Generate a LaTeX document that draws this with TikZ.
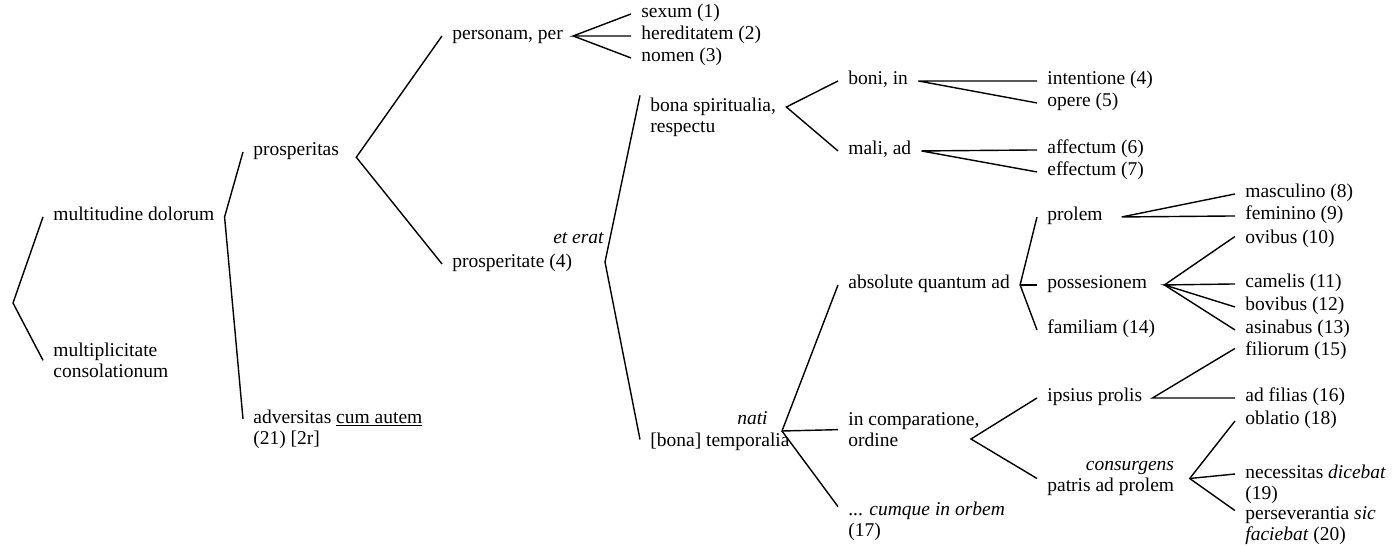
\documentclass[tikz,border=0pt]{standalone}
\usepackage{fontspec}
\setmainfont{Liberation Serif}
\begin{document}
\begin{tikzpicture}[x=0.02cm, y=-0.02cm,
    lbl/.style={anchor=base west, inner xsep=0.2cm, inner ysep=1pt, align=left,
        font=\fontsize{11.1}{12.5}\selectfont},
    note/.style={anchor=base east, inner sep=0pt,
        font=\fontsize{11.1}{12.5}\selectfont\itshape},
    br/.style={line width=0.8pt}]
    \useasboundingbox (0,0) rectangle (1393,546);

    % first division
    \coordinate (root) at (13,303);
    \node[lbl] (md) at (43,221) {multitudine dolorum};
    \node[lbl] (mc) at (43,378) {multiplicitate\\consolationum};
    \draw[br] (md.mid west) -- (root) -- (mc.west);

    \node[lbl] (pa) at (243,156) {prosperitas};
    \node[lbl] (ad) at (243,445) {adversitas \underline{cum autem}\\(21) [2r]};
    \draw[br] (pa.mid west) -- (md.mid east) -- ([yshift=12.5pt]ad.mid west);

    \node[lbl] (pe) at (442,40) {personam, per};
    \node[lbl] (pt) at (442,268) {prosperitate (4)};
    \draw[br] (pe.mid west) -- ([xshift=4pt,yshift=-3pt]pa.mid east) -- (pt.mid west);

    % per personam
    \node[lbl] (sx) at (631,18) {sexum (1)};
    \node[lbl] (hr) at (631,40) {hereditatem (2)};
    \node[lbl] (nm) at (631,62) {nomen (3)};
    \draw[br] (sx.mid west) -- (pe.mid east) -- (hr.mid west);
    \draw[br] (pe.mid east) -- (nm.mid west);

    % et erat
    \coordinate (erat) at (605,262);
    \node[note] (ee) at (604,244) {et erat};
    \node[lbl] (bs) at (640,133) {bona spiritualia,\\respectu};
    \node[lbl] (bt) at (640,447) {[bona] temporalia};
    \node[note] (nati) at (768,425) {nati};
    \draw[br] (bs.north west) -- (erat) -- ([yshift=2pt]bt.mid west);

    % bona spiritualia
    \node[lbl] (bo) at (838,85) {boni, in};
    \node[lbl] (ma) at (838,155) {mali, ad};
    \draw[br] (bo.mid west) -- ([yshift=12.5pt]bs.mid east) -- (ma.mid west);

    \node[lbl] (in) at (1037,85) {intentione (4)};
    \node[lbl] (op) at (1037,107) {opere (5)};
    \node[lbl] (af) at (1037,154) {affectum (6)};
    \node[lbl] (ef) at (1037,176) {effectum (7)};
    \draw[br] (in.mid west) -- (bo.mid east) -- (op.mid west);
    \draw[br] (af.mid west) -- (ma.mid east) -- (ef.mid west);

    % bona temporalia
    \coordinate (temp) at (782,431);
    \node[lbl] (aq) at (838,289) {absolute quantum ad};
    \node[lbl] (ic) at (838,447) {in comparatione,\\ordine};
    \node[lbl] (cu) at (838,537) {... \textit{cumque in orbem}\\(17)};
    \draw[br] (aq.mid west) -- (temp) -- (ic.west);
    \draw[br] (temp) -- ([yshift=15pt]cu.mid west);

    % absolute quantum ad
    \node[lbl] (pr) at (1037,221) {prolem};
    \node[lbl] (po) at (1037,289) {possesionem};
    \node[lbl] (fa) at (1037,334) {familiam (14)};
    \draw[br] (pr.mid west) -- (aq.mid east) -- (fa.mid west);
    \draw[br] (aq.mid east) -- (po.mid west);

    \node[lbl] (ms) at (1235,198) {masculino (8)};
    \node[lbl] (fe) at (1235,220) {feminino (9)};
    \draw[br] (ms.mid west) -- ([xshift=5pt]pr.mid east) -- (fe.mid west);

    \node[lbl] (ov) at (1235,244) {ovibus (10)};
    \node[lbl] (ca) at (1235,288) {camelis (11)};
    \node[lbl] (bv) at (1235,311) {bovibus (12)};
    \node[lbl] (as) at (1235,334) {asinabus (13)};
    \draw[br] ([yshift=2pt]ov.mid west) -- ([xshift=4pt]po.mid east) -- (as.mid west);
    \draw[br] (ca.mid west) -- ([xshift=4pt]po.mid east) -- (bv.mid west);

    % in comparatione
    \coordinate (comp) at (971,439);
    \node[lbl] (ip) at (1037,402) {ipsius prolis};
    \node[lbl, align=right] (pp) at (1037,492) {\textit{consurgens}\\patris ad prolem};
    \draw[br] (ip.mid west) -- (comp) -- (pp.west);

    \node[lbl] (fi) at (1235,356) {filiorum (15)};
    \node[lbl] (fl) at (1235,402) {ad filias (16)};
    \draw[br] ([yshift=2pt]fi.mid west) -- (ip.mid east) -- (fl.mid west);

    \node[lbl] (ob) at (1235,425) {oblatio (18)};
    \node[lbl] (ne) at (1235,500) {necessitas \textit{dicebat}\\(19)};
    \node[lbl] (ps) at (1235,541) {perseverantia \textit{sic}\\\textit{faciebat} (20)};
    \draw[br] (ob.mid west) -- ([xshift=3pt]pp.east) -- ([yshift=15pt]ps.mid west);
    \draw[br] ([xshift=3pt]pp.east) -- ([yshift=12.5pt]ne.mid west);
\end{tikzpicture}
\end{document}
